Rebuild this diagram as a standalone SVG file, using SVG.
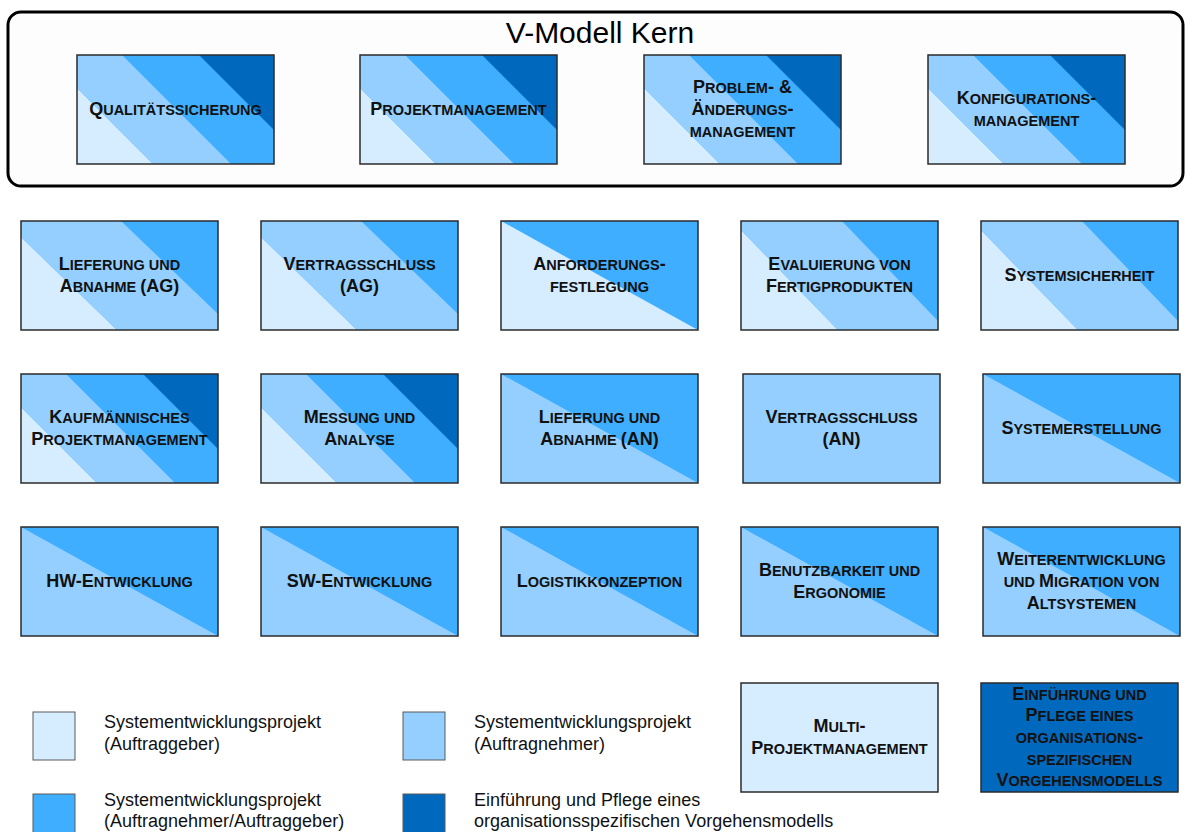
<svg xmlns="http://www.w3.org/2000/svg" xmlns:xlink="http://www.w3.org/1999/xlink" width="1185" height="832" viewBox="0 0 1185 832">
<style>
.c0{fill:#d6ecff}.c1{fill:#94cfff}.c2{fill:#3faeff}.c3{fill:#0069bd}
.frame{fill:none;stroke:#2b2b2b;stroke-width:1.5}
.lt{fill:none;stroke:#5a5a5a;stroke-width:1}
.t{font-family:"Liberation Sans",Arial,sans-serif;font-weight:bold;font-size:18px;text-anchor:middle;fill:#111}
.s{font-size:14.5px}
.lg{font-family:"Liberation Sans",Arial,sans-serif;font-size:18px;fill:#111}
.title{font-family:"Liberation Sans",Arial,sans-serif;font-size:30px;text-anchor:middle;fill:#000}
</style>
<defs>
<g id="s4">
<rect class="c2" width="197" height="109"/>
<polygon class="c0" points="0,33 0,109 76,109"/>
<polygon class="c1" points="0,0 45,0 154,109 76,109 0,33"/>
<polygon class="c3" points="122,0 197,0 197,75"/>
</g>
<g id="s3a">
<rect class="c2" width="197" height="109"/>
<polygon class="c0" points="0,16 0,109 96,109"/>
<polygon class="c1" points="0,0 100,0 197,93 197,109 96,109 0,16"/>
</g>
<g id="s3b">
<rect class="c2" width="197" height="109"/>
<polygon class="c0" points="0,9 0,109 97,109"/>
<polygon class="c1" points="0,0 101,0 197,100 197,109 97,109 0,9"/>
</g>
<g id="d0">
<rect class="c2" width="197" height="109"/>
<polygon class="c0" points="0,0 197,109 0,109"/>
</g>
<g id="d1">
<rect class="c2" width="197" height="109"/>
<polygon class="c1" points="0,0 197,109 0,109"/>
</g>
<rect id="fr" class="frame" width="197" height="109"/>
</defs>

<g id="kern">
<rect x="8" y="12" width="1175" height="174" rx="13" ry="13" fill="#fdfdfd" stroke="#000" stroke-width="3"/>
<text class="title" x="600" y="43">V-Modell Kern</text>
</g>

<g id="n-qualitaetssicherung" transform="translate(77,55)"><use href="#s4"/><use href="#fr"/>
<text class="t" x="98.5" y="60">Q<tspan class="s">UALITÄTSSICHERUNG</tspan></text></g>
<g id="n-projektmanagement" transform="translate(360,55)"><use href="#s4"/><use href="#fr"/>
<text class="t" x="98.5" y="60">P<tspan class="s">ROJEKTMANAGEMENT</tspan></text></g>
<g id="n-problem" transform="translate(644,55)"><use href="#s4"/><use href="#fr"/>
<text class="t" x="98.5" y="38">P<tspan class="s">ROBLEM</tspan>- &amp;</text>
<text class="t" x="98.5" y="60">Ä<tspan class="s">NDERUNGS</tspan>-</text>
<text class="t" x="98.5" y="82"><tspan class="s">MANAGEMENT</tspan></text></g>
<g id="n-konfiguration" transform="translate(928,55)"><use href="#s4"/><use href="#fr"/>
<text class="t" x="98.5" y="49">K<tspan class="s">ONFIGURATIONS</tspan>-</text>
<text class="t" x="98.5" y="71"><tspan class="s">MANAGEMENT</tspan></text></g>

<g id="n-lieferung-ag" transform="translate(21,221)"><use href="#s3a"/><use href="#fr"/>
<text class="t" x="98.5" y="49">L<tspan class="s">IEFERUNG UND</tspan></text>
<text class="t" x="98.5" y="71">A<tspan class="s">BNAHME </tspan>(AG)</text></g>
<g id="n-vertrag-ag" transform="translate(261,221)"><use href="#s3a"/><use href="#fr"/>
<text class="t" x="98.5" y="49">V<tspan class="s">ERTRAGSSCHLUSS</tspan></text>
<text class="t" x="98.5" y="71">(AG)</text></g>
<g id="n-anforderung" transform="translate(501,221)"><use href="#d0"/><use href="#fr"/>
<text class="t" x="98.5" y="49">A<tspan class="s">NFORDERUNGS</tspan>-</text>
<text class="t" x="98.5" y="71"><tspan class="s">FESTLEGUNG</tspan></text></g>
<g id="n-evaluierung" transform="translate(741,221)"><use href="#s3b"/><use href="#fr"/>
<text class="t" x="98.5" y="49">E<tspan class="s">VALUIERUNG VON</tspan></text>
<text class="t" x="98.5" y="71">F<tspan class="s">ERTIGPRODUKTEN</tspan></text></g>
<g id="n-systemsicherheit" transform="translate(981,221)"><use href="#s3b"/><use href="#fr"/>
<text class="t" x="98.5" y="60">S<tspan class="s">YSTEMSICHERHEIT</tspan></text></g>

<g id="n-kaufmaennisch" transform="translate(21,374)"><use href="#s4"/><use href="#fr"/>
<text class="t" x="98.5" y="49">K<tspan class="s">AUFMÄNNISCHES</tspan></text>
<text class="t" x="98.5" y="71">P<tspan class="s">ROJEKTMANAGEMENT</tspan></text></g>
<g id="n-messung" transform="translate(261,374)"><use href="#s4"/><use href="#fr"/>
<text class="t" x="98.5" y="49">M<tspan class="s">ESSUNG UND</tspan></text>
<text class="t" x="98.5" y="71">A<tspan class="s">NALYSE</tspan></text></g>
<g id="n-lieferung-an" transform="translate(501,374)"><use href="#d1"/><use href="#fr"/>
<text class="t" x="98.5" y="49">L<tspan class="s">IEFERUNG UND</tspan></text>
<text class="t" x="98.5" y="71">A<tspan class="s">BNAHME </tspan>(AN)</text></g>
<g id="n-vertrag-an" transform="translate(743,374)"><rect class="c1" width="197" height="109"/><use href="#fr"/>
<text class="t" x="98.5" y="49">V<tspan class="s">ERTRAGSSCHLUSS</tspan></text>
<text class="t" x="98.5" y="71">(AN)</text></g>
<g id="n-systemerstellung" transform="translate(983,374)"><use href="#d1"/><use href="#fr"/>
<text class="t" x="98.5" y="60">S<tspan class="s">YSTEMERSTELLUNG</tspan></text></g>

<g id="n-hw" transform="translate(21,527)"><use href="#d1"/><use href="#fr"/>
<text class="t" x="98.5" y="60">HW-E<tspan class="s">NTWICKLUNG</tspan></text></g>
<g id="n-sw" transform="translate(261,527)"><use href="#d1"/><use href="#fr"/>
<text class="t" x="98.5" y="60">SW-E<tspan class="s">NTWICKLUNG</tspan></text></g>
<g id="n-logistik" transform="translate(501,527)"><use href="#d1"/><use href="#fr"/>
<text class="t" x="98.5" y="60">L<tspan class="s">OGISTIKKONZEPTION</tspan></text></g>
<g id="n-benutzbarkeit" transform="translate(741,527)"><use href="#d1"/><use href="#fr"/>
<text class="t" x="98.5" y="49">B<tspan class="s">ENUTZBARKEIT UND</tspan></text>
<text class="t" x="98.5" y="71">E<tspan class="s">RGONOMIE</tspan></text></g>
<g id="n-weiterentwicklung" transform="translate(983,527)"><use href="#d1"/><use href="#fr"/>
<text class="t" x="98.5" y="38">W<tspan class="s">EITERENTWICKLUNG</tspan></text>
<text class="t" x="98.5" y="60"><tspan class="s">UND </tspan>M<tspan class="s">IGRATION VON</tspan></text>
<text class="t" x="98.5" y="82">A<tspan class="s">LTSYSTEMEN</tspan></text></g>

<g id="n-multi" transform="translate(741,683)"><rect class="c0" width="197" height="109"/><use href="#fr"/>
<text class="t" x="98.5" y="49">M<tspan class="s">ULTI</tspan>-</text>
<text class="t" x="98.5" y="71">P<tspan class="s">ROJEKTMANAGEMENT</tspan></text></g>
<g id="n-einfuehrung" transform="translate(981,683)"><rect class="c3" width="197" height="109"/><use href="#fr"/>
<text class="t" x="98.5" y="16.8">E<tspan class="s">INFÜHRUNG UND</tspan></text>
<text class="t" x="98.5" y="38.4">P<tspan class="s">FLEGE EINES</tspan></text>
<text class="t" x="98.5" y="60"><tspan class="s">ORGANISATIONS</tspan>-</text>
<text class="t" x="98.5" y="81.6"><tspan class="s">SPEZIFISCHEN</tspan></text>
<text class="t" x="98.5" y="103.2">V<tspan class="s">ORGEHENSMODELLS</tspan></text></g>

<g id="legend">
<rect class="c0" x="33" y="712" width="42" height="48"/><rect class="lt" x="33" y="712" width="42" height="48"/>
<text class="lg" x="104" y="728">Systementwicklungsprojekt</text>
<text class="lg" x="104" y="750">(Auftraggeber)</text>
<rect class="c1" x="403" y="712" width="42" height="48"/><rect class="lt" x="403" y="712" width="42" height="48"/>
<text class="lg" x="474" y="728">Systementwicklungsprojekt</text>
<text class="lg" x="474" y="750">(Auftragnehmer)</text>
<rect class="c2" x="33" y="794" width="42" height="48"/><rect class="lt" x="33" y="794" width="42" height="48"/>
<text class="lg" x="104" y="806">Systementwicklungsprojekt</text>
<text class="lg" x="104" y="827">(Auftragnehmer/Auftraggeber)</text>
<rect class="c3" x="403" y="794" width="42" height="48"/><rect class="lt" x="403" y="794" width="42" height="48"/>
<text class="lg" x="474" y="806">Einführung und Pflege eines</text>
<text class="lg" x="474" y="827">organisationsspezifischen Vorgehensmodells</text>
</g>
</svg>
